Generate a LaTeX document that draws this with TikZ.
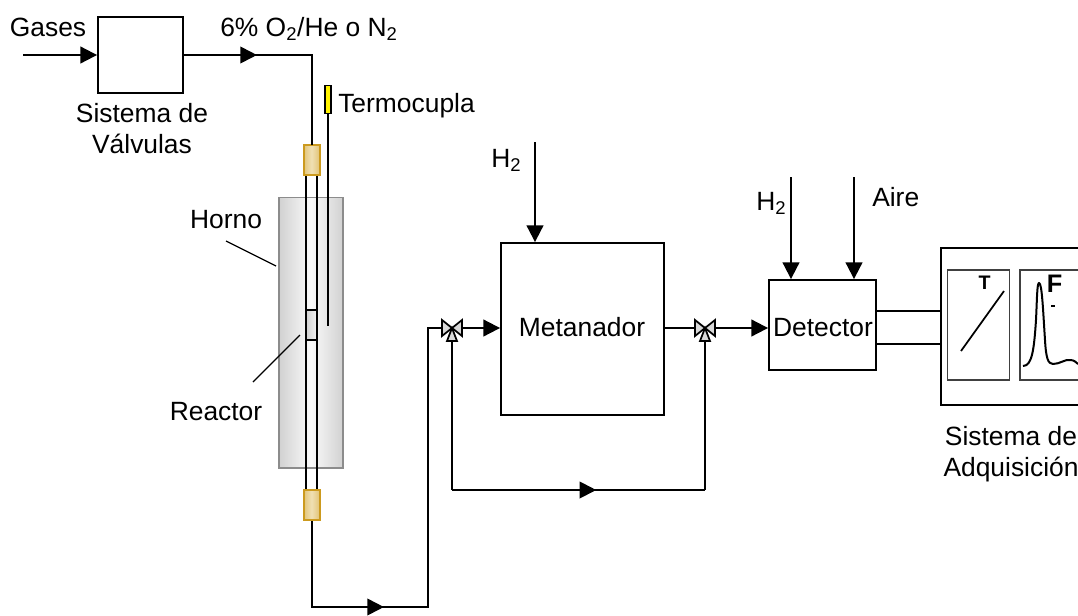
\documentclass[tikz,border=0pt]{standalone}
\usepackage{fontspec}
\setmainfont{Liberation Sans}
\usetikzlibrary{arrows.meta,calc,decorations.markings,positioning}
\definecolor{collarline}{HTML}{CC9A1E}
\definecolor{collarfill}{HTML}{F0E0B4}
\tikzset{
  tube/.style={line width=1.5pt,black},
  thin line/.style={line width=0.9pt,black},
  lbl/.style={inner sep=0pt,align=center,font=\fontsize{19.8}{23.2}\selectfont},
  unit/.style={draw=black,line width=1.4pt,inner sep=0pt,fill=white},
  inbox/.style={draw=black!75,line width=0.8pt,inner sep=0pt,fill=white},
  collar/.style={draw=collarline,line width=1.5pt,inner sep=0pt,minimum width=12pt,minimum height=22.5pt,left color=collarfill!60!collarline,right color=collarfill!60!collarline,middle color=collarfill},
  valvepart/.style={draw=black,line width=1.3pt,fill=black!15,line join=miter},
  flow/.style={tube,-{Triangle[length=12.5pt,width=12.5pt]}},
  midtip/.style={postaction={decorate,decoration={markings,mark=at position #1 with {\arrow{Triangle[length=12.5pt,width=12.5pt]}}}}}
}
\newcommand{\valve}[1]{%
  \path[valvepart] (#1) -- ++(-10,-8) -- ++(0,16) -- cycle;
  \path[valvepart] (#1) -- ++(10,-8) -- ++(0,16) -- cycle;
  \path[valvepart] (#1) -- ++(-5,13) -- ++(10,0) -- cycle;
}
\begin{document}
\begin{tikzpicture}[x=0.75pt,y=-0.75pt]
\clip (0,0) rectangle (1078,615);
% horno y reactor
\node[draw=black!45,line width=1pt,inner sep=0pt,minimum width=48pt,minimum height=203pt,left color=black!18,right color=black!18,middle color=black!2] (horno) at (311,332.5) {};
\node[inner sep=0pt,minimum width=8pt,minimum height=22pt,left color=black!18,right color=black!5] (reactor) at (311.5,325) {};
\coordinate (reacA) at (306,310);
\coordinate (reacB) at (317,310);
\coordinate (reacC) at (306,340);
\coordinate (reacD) at (317,340);
\node[collar] (col1) at (311.5,160) {};
\node[collar] (col2) at (311.5,505) {};
% unidades
\node[unit,minimum width=63.75pt,minimum height=57pt] (valvulas) at (140.5,55) {};
\node[unit,minimum width=122.25pt,minimum height=129pt] (metanador) at (582.5,329) {};
\node[unit,minimum width=80.25pt,minimum height=67.5pt] (detector) at (822.5,325) {};
\node[unit,minimum width=119.25pt,minimum height=117.75pt] (adquis) at (1020.5,326.5) {};
\node[inbox,minimum width=47pt,minimum height=82.5pt] (panelT) at (978.5,325) {};
\node[inbox,minimum width=60pt,minimum height=82.5pt] (panelF) at (1060,325) {};
\coordinate (V1) at (452,328);
\coordinate (V2) at (705,328);
\coordinate (gasin) at (23,55);
\coordinate (h2a) at (535,142);
\coordinate (h2b) at (791,177);
\coordinate (aire) at (854,177);
\coordinate (codoA) at (312,55);
\coordinate (codoB) at (312,607);
\coordinate (codoC) at (428,607);
\coordinate (codoD) at (428,328);
\coordinate (codoE) at (452,490);
\coordinate (codoF) at (705,490);
\node[draw=black,line width=0.9pt,fill=yellow,inner sep=0pt,minimum width=4.5pt,minimum height=21.5pt] (termo) at (328,99.5) {};
\coordinate (termoFin) at (328,326);
% lineas
\path[thin line]
(termo.south) edge (termoFin);
\path[tube]
($(col1.south)+(-5.5,0)$) edge ($(col2.north)+(-5.5,0)$)
($(col1.south)+(5.5,0)$) edge ($(col2.north)+(5.5,0)$);
\path[thin line]
(reacA) edge (reacB)
(reacC) edge (reacD);
\draw[flow] (gasin) -- (valvulas.west |- gasin);
\draw[tube,midtip=0.57] (valvulas.east |- codoA) -- (codoA);
\draw[tube,line cap=rect] (codoA) -- (codoA |- col1.north);
\draw[tube] (col2.south -| codoB) -- (codoB);
\draw[tube,line cap=rect,midtip=0.62] (codoB) -- (codoC);
\draw[tube] (codoC) -- (codoD) -- (V1);
\draw[flow] (V1) -- (metanador.west |- V1);
\draw[tube] (V1) -- (codoE);
\draw[tube,midtip=0.57] (codoE) -- (codoF);
\draw[tube] (codoF) -- (V2);
\draw[tube] (metanador.east |- V2) -- (V2);
\draw[flow] (V2) -- (detector.west |- V2);
\draw[flow] (h2a) -- (h2a |- metanador.north);
\draw[flow] (h2b) -- (h2b |- detector.north);
\draw[flow] (aire) -- (aire |- detector.north);
\draw[thin line,line width=1.1pt] (detector.east |- 0,311) -- (adquis.west |- 0,311);
\draw[thin line,line width=1.1pt] (detector.east |- 0,344) -- (adquis.west |- 0,344);
\valve{V1}
\valve{V2}
% registros
\draw[line width=1.3pt] (961,351) -- (1004,291);
\draw[line width=1.5pt,line join=round] (1023,366) .. controls (1032,366) and (1034,350) .. (1036,320) .. controls (1037,300) and (1037,283) .. (1039,283) .. controls (1042,283) and (1043,310) .. (1045,340) .. controls (1046,358) and (1048,364) .. (1053,364) .. controls (1060,364) and (1065,359) .. (1070,360) .. controls (1074,360) and (1076,362) .. (1078,364);
% textos
\node[lbl,anchor=base] (gases) at (48,36) {Gases};
\node[lbl,anchor=base west] (mezcla) at (220,36) {6\% O\textsubscript{2}/He o N\textsubscript{2}};
\node[lbl,anchor=base west] (tlabel) at (338,112) {Termocupla};
\node[lbl] (vlabel) at (142,129) {Sistema de\\Válvulas};
\node[lbl,anchor=base] (hlabel) at (226,228) {Horno};
\node[lbl,anchor=base] (rlabel) at (216,420) {Reactor};
\node[lbl,anchor=base west] (h2labela) at (491,167) {H\textsubscript{2}};
\node[lbl,anchor=base west] (h2labelb) at (756,210) {H\textsubscript{2}};
\node[lbl,anchor=base west] (ailabel) at (872,206) {Aire};
\node[lbl,anchor=base] (mlabel) at (582,336) {Metanador};
\node[lbl,anchor=base] (dlabel) at (823,336) {Detector};
\node[lbl] (alabel) at (1011,454) {Sistema de\\Adquisición};
\node[lbl,font=\fontsize{14.7}{18}\selectfont\bfseries] (tletra) at (984.5,283) {T};
\node[lbl,font=\fontsize{19}{22}\selectfont\bfseries] (fletra) at (1054.5,284) {F};
\node[fill=black,inner sep=0pt,minimum width=3pt,minimum height=1.5pt] (guion) at (1053,306) {};
\coordinate (hA) at (226,241);
\coordinate (hB) at (276,266);
\coordinate (rA) at (253,382);
\coordinate (rB) at (300,335);
\path[thin line]
(hA) edge (hB)
(rA) edge (rB);
\end{tikzpicture}
\end{document}
